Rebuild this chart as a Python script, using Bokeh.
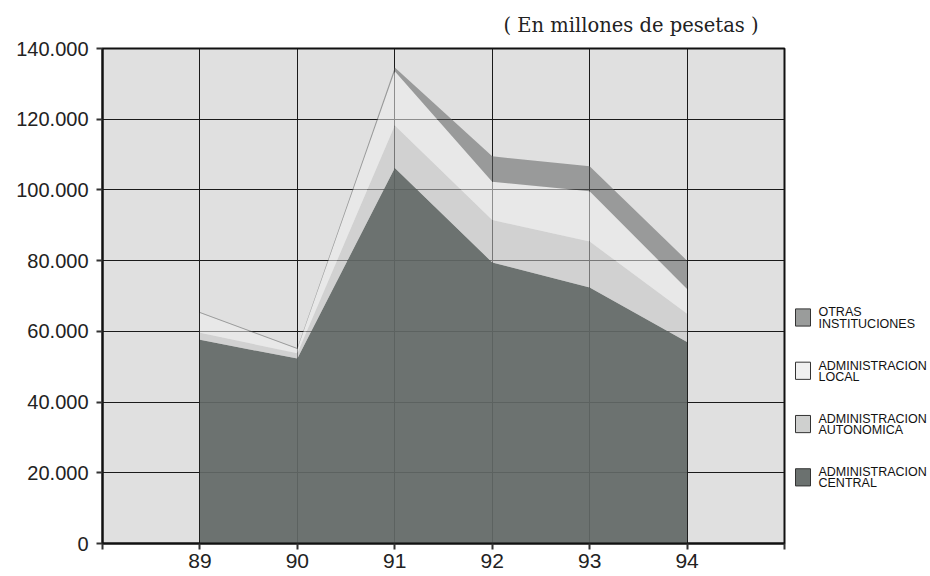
from bokeh.plotting import figure
from bokeh.models import ColumnDataSource, FixedTicker, Range1d
from bokeh.layouts import row
from bokeh.embed import file_html
from bokeh.resources import INLINE
from bokeh.core.properties import value

# ---------------- data ----------------
years = [89, 90, 91, 92, 93, 94]
year_labels = ["89", "90", "91", "92", "93", "94"]
central = [57600, 52300, 106200, 79500, 72400, 57000]
autonomica = [2000, 1500, 12000, 12000, 13000, 8000]
local = [5600, 1200, 15400, 10800, 14200, 7000]
otras = [300, 300, 1000, 7200, 7100, 8000]

y_ticks = [0, 20000, 40000, 60000, 80000, 100000, 120000, 140000]
y_tick_labels = ["0", "20.000", "40.000", "60.000", "80.000", "100.000", "120.000", "140.000"]
x_ticks = [88, 89, 90, 91, 92, 93, 94, 95]

title_text = "( En millones de pesetas )"
legend_line1 = ["OTRAS", "ADMINISTRACION", "ADMINISTRACION", "ADMINISTRACION"]
legend_line2 = ["INSTITUCIONES", "LOCAL", "AUTONOMICA", "CENTRAL"]

# ---------------- styles ----------------
BG = "#e0e0e0"
area_colors = ["#626866", "#c4c4c4", "#eeeeee", "#5e6060"]   # central, autonomica, local, otras
area_alphas = [0.92, 0.55, 0.55, 0.55]
legend_colors = ["#9a9c9b", "#f0f0f0", "#cfd0cf", "#6b716f"]  # otras, local, autonomica, central
SANS = "Liberation Sans"

src = ColumnDataSource(dict(year=years, central=central, autonomica=autonomica,
                            local=local, otras=otras))

p = figure(width=788, height=576, x_range=Range1d(88, 95), y_range=Range1d(0, 140000),
           output_backend="svg", toolbar_location=None,
           min_border_left=102, min_border_right=4, min_border_top=48, min_border_bottom=33)
p.background_fill_color = BG
p.border_fill_color = "white"
p.outline_line_color = "#111111"
p.outline_line_width = 2

p.varea_stack(stackers=["central", "autonomica", "local", "otras"], x="year",
              color=area_colors, fill_alpha=area_alphas, source=src)

# grid
p.xgrid.ticker = FixedTicker(ticks=x_ticks)
p.ygrid.ticker = FixedTicker(ticks=y_ticks)
p.grid.grid_line_color = "#1a1a1a"
p.grid.grid_line_width = 1
p.grid.grid_line_alpha = 1.0

# axes
p.yaxis.ticker = FixedTicker(ticks=y_ticks)
p.yaxis.major_label_overrides = {t: l for t, l in zip(y_ticks, y_tick_labels)}
xo = {88: "", 95: ""}
xo.update({y: l for y, l in zip(years, year_labels)})
p.xaxis.ticker = FixedTicker(ticks=x_ticks)
p.xaxis.major_label_overrides = xo
for ax in (p.xaxis, p.yaxis):
    ax.axis_line_color = "#111111"
    ax.axis_line_width = 2
    ax.major_tick_line_color = "#333333"
    ax.major_tick_line_width = 2
    ax.major_tick_in = 0
    ax.major_tick_out = 6
    ax.minor_tick_line_color = None
    ax.major_label_text_font = SANS
    ax.major_label_text_color = "#222222"
p.yaxis.major_label_text_font_size = "20px"
p.yaxis.major_label_standoff = 8
p.xaxis.major_label_text_font_size = "21px"
p.xaxis.major_label_standoff = 4

p.title.text = title_text
p.title.align = "left"
p.title.offset = 401
p.title.standoff = 23
p.title.text_font = "DejaVu Serif"
p.title.text_font_size = "19.5px"
p.title.text_font_style = "normal"
p.title.text_color = "#222222"

# ---------------- legend panel ----------------
lf = figure(width=142, height=576, x_range=Range1d(0, 142), y_range=Range1d(576, 0),
            output_backend="svg", toolbar_location=None, min_border=0,
            x_axis_type=None, y_axis_type=None)
lf.outline_line_color = None
lf.grid.visible = False
lf.background_fill_color = "white"
lf.border_fill_color = "white"

item_y = [313 + 62 * i for i in range(len(legend_line1))]
lf.rect(x=[14.5] * len(item_y), y=item_y, width=15, height=20,
        fill_color=legend_colors, line_color="#333333", line_width=1)
lf.text(x=[30] * len(item_y), y=[v - 6 for v in item_y], text=legend_line1,
        text_font=value(SANS), text_font_size="12.5px", text_baseline="middle",
        text_color="#111111")
lf.text(x=[30] * len(item_y), y=[v + 7 for v in item_y], text=legend_line2,
        text_font=value(SANS), text_font_size="12.5px", text_baseline="middle",
        text_color="#111111")

layout = row(p, lf)
open("out.html", "w").write(file_html(layout, INLINE))
